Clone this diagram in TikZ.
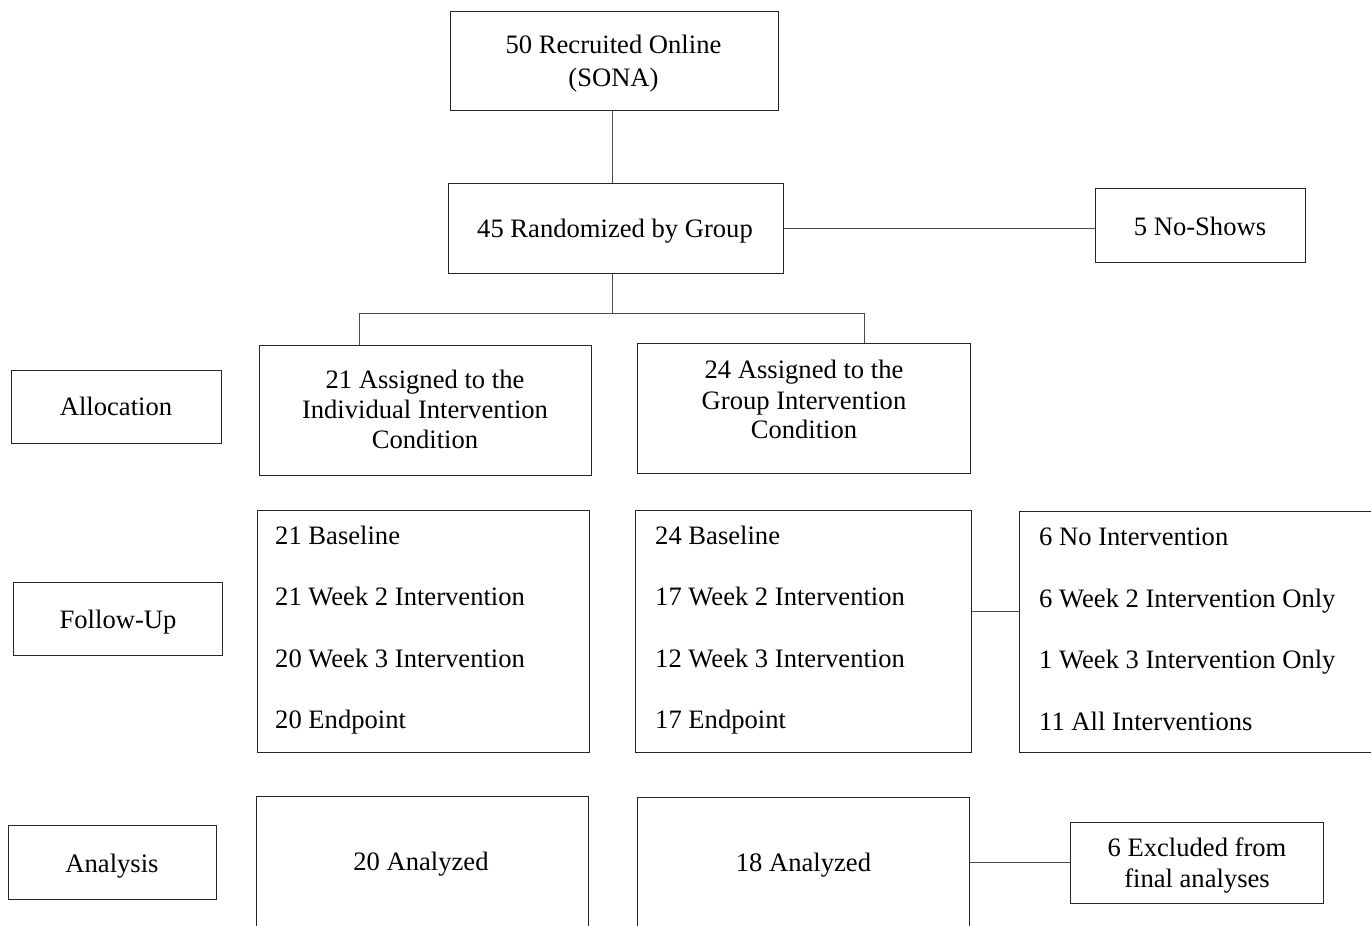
\documentclass[tikz,border=0pt]{standalone}
\usepackage{fontspec}
\setmainfont{Liberation Serif}
\begin{document}
\begin{tikzpicture}[x=1pt,y=-1pt,
  box/.style={draw=black!85, line width=1pt, rectangle, inner sep=0pt},
  txt/.style={inner sep=0pt, font=\fontsize{26.6}{30}\selectfont, anchor=base},
  txtl/.style={txt, anchor=base west},
  conn/.style={draw=black!70, line width=1pt}]
\useasboundingbox (0,0) rectangle (1371,926);
\clip (0,0) rectangle (1371,926);
% boxes
\node[box, minimum width=328pt, minimum height=99pt] (rec) at (614,60.5) {};
\node[box, minimum width=335pt, minimum height=90pt] (rand) at (615.5,228) {};
\node[box, minimum width=210pt, minimum height=74pt] (noshow) at (1200,225) {};
\node[box, minimum width=210pt, minimum height=73pt] (alloc) at (116,406.5) {};
\node[box, minimum width=332pt, minimum height=130pt] (asgL) at (425,410) {};
\node[box, minimum width=333pt, minimum height=130pt] (asgR) at (803.5,408) {};
\node[box, minimum width=209pt, minimum height=73pt] (fu) at (117.5,618.5) {};
\node[box, minimum width=332pt, minimum height=242pt] (fuL) at (423,631) {};
\node[box, minimum width=336pt, minimum height=242pt] (fuR) at (803,631) {};
\node[box, minimum width=381pt, minimum height=241pt] (fuX) at (1209.5,631.5) {};
\node[box, minimum width=208pt, minimum height=74pt] (ana) at (112,862) {};
\node[box, minimum width=332pt, minimum height=164pt] (anL) at (422,878) {};
\node[box, minimum width=332pt, minimum height=163pt] (anR) at (803,878.5) {};
\node[box, minimum width=253pt, minimum height=81pt] (excl) at (1196.5,862.5) {};
% texts
\node[txt] (t1) at (613.5,53.5) {50 Recruited Online};
\node[txt] (t2) at (613.5,86) {(SONA)};
\node[txt] (t3) at (615,237.5) {45 Randomized by Group};
\node[txt] (t4) at (1200,235.5) {5 No-Shows};
\node[txt] (t5) at (116,415.5) {Allocation};
\node[txt] (t6) at (425,388.5) {21 Assigned to the};
\node[txt] (t7) at (425,418.5) {Individual Intervention};
\node[txt] (t8) at (425,448) {Condition};
\node[txt] (t9) at (804,378.5) {24 Assigned to the};
\node[txt] (t10) at (804,409) {Group Intervention};
\node[txt] (t11) at (804,438.5) {Condition};
\node[txt] (t12) at (118,628.5) {Follow-Up};
\node[txtl] (a1) at (275,544) {21 Baseline};
\node[txtl] (a2) at (275,605.5) {21 Week 2 Intervention};
\node[txtl] (a3) at (275,667) {20 Week 3 Intervention};
\node[txtl] (a4) at (275,728.5) {20 Endpoint};
\node[txtl] (b1) at (655,544) {24 Baseline};
\node[txtl] (b2) at (655,605.5) {17 Week 2 Intervention};
\node[txtl] (b3) at (655,667) {12 Week 3 Intervention};
\node[txtl] (b4) at (655,728.5) {17 Endpoint};
\node[txtl] (c1) at (1039,545) {6 No Intervention};
\node[txtl] (c2) at (1039,607) {6 Week 2 Intervention Only};
\node[txtl] (c3) at (1039,668.5) {1 Week 3 Intervention Only};
\node[txtl] (c4) at (1039,730) {11 All Interventions};
\node[txt] (t13) at (112,872) {Analysis};
\node[txt] (t14) at (421,870.5) {20 Analyzed};
\node[txt] (t15) at (803.5,871.5) {18 Analyzed};
\node[txt] (t16) at (1197,856) {6 Excluded from};
\node[txt] (t17) at (1197,887) {final analyses};
% connectors
\coordinate (bl) at (359,313);
\coordinate (br) at (864,313);
\coordinate (fy) at (0,611);
\draw[conn] (rec.south -| 612,0) -- (rand.north -| 612,0);
\draw[conn] (rand.east) -- (rand.east -| noshow.west);
\draw[conn] (rand.south -| 612,0) -- (bl -| 612,0);
\draw[conn] (bl |- asgL.north) -- (bl) -- (br) -- (br |- asgR.north);
\draw[conn] (fuR.east |- fy) -- (fuX.west |- fy);
\draw[conn] (excl.west -| anR.east) -- (excl.west);
\end{tikzpicture}
\end{document}
